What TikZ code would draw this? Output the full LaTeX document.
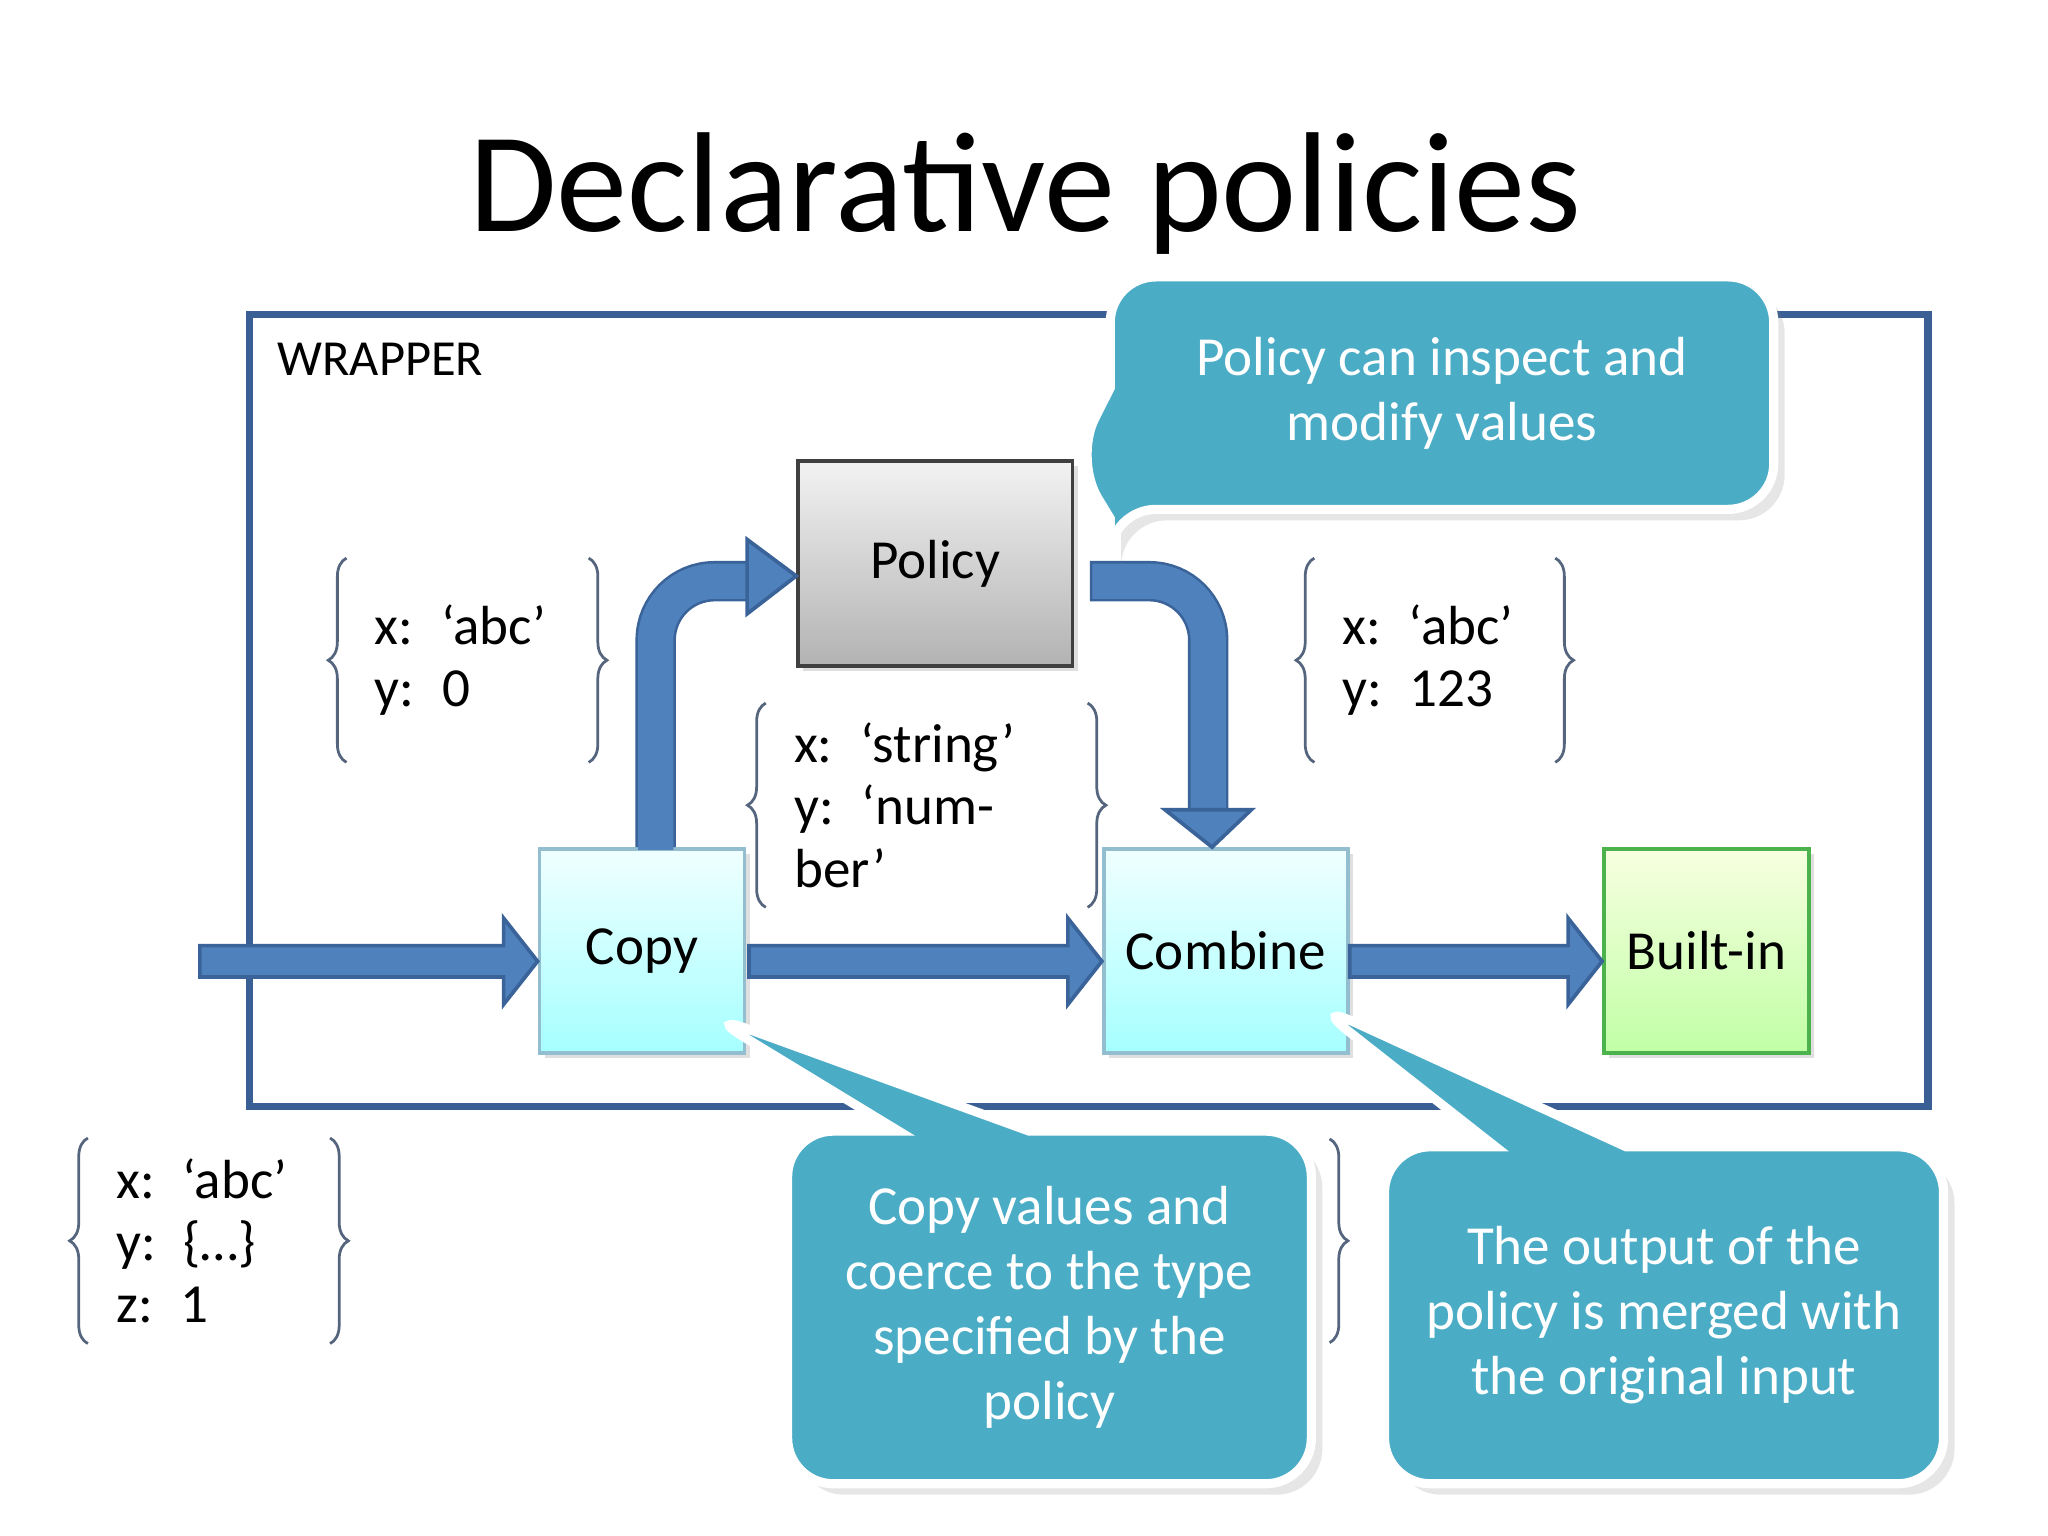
\documentclass[tikz,border=0pt]{standalone}
\usepackage{fontspec}
\setmainfont{Carlito}
\usetikzlibrary{shapes,shapes.callouts,positioning,shadows,calc,decorations.pathreplacing}

\definecolor{frameblue}{HTML}{3A5F94}
\definecolor{arrowblue}{HTML}{4F81BD}
\definecolor{arrowedge}{HTML}{3A6399}
\definecolor{callblue}{HTML}{4BACC6}
\definecolor{bracegray}{HTML}{55657D}

\newcommand{\fatarrow}[2]{%
  \fill[arrowblue, draw=arrowedge, line width=0.8pt]
    ($(#1)+(0,0.12)$) -- ($(#2)+(-0.26,0.12)$) -- ($(#2)+(-0.26,0.33)$) -- (#2)
    -- ($(#2)+(-0.26,-0.33)$) -- ($(#2)+(-0.26,-0.12)$) -- ($(#1)+(0,-0.12)$) -- cycle;}

\begin{document}
\begin{tikzpicture}[
    stage/.style={rectangle, draw, line width=0.8pt, minimum width=1.57cm, minimum height=1.56cm, font=\fontsize{12}{14}\selectfont, drop shadow={opacity=0.25, shadow xshift=0.04cm, shadow yshift=-0.04cm}},
    flow/.style={stage, draw=cyan!45!gray!70, top color=cyan!6, bottom color=cyan!35},
    policy/.style={stage, draw=black!75, top color=black!5, bottom color=black!30, minimum width=2.1cm, minimum height=1.57cm},
    builtin/.style={stage, draw=green!40!gray, top color=lime!12, bottom color=lime!40!green!35},
    note/.style={rectangle callout, rounded corners=0.35cm, fill=callblue, draw=white, line width=2pt, text=white, align=center, font=\fontsize{12}{14.2}\selectfont, callout pointer width=1cm, drop shadow={opacity=0.2}},
    vals/.style={rectangle, align=left, inner xsep=0.21cm, font=\fontsize{12}{13.6}\selectfont},
    curly/.style={decorate, decoration={brace, amplitude=0.14cm}, draw=bracegray, line width=0.6pt},
    shaft/.style={line width=0.31cm, arrowedge},
    shaftin/.style={line width=0.27cm, arrowblue}
]
    \useasboundingbox (0,0) rectangle (15.68,-11.76);

    % Title
    \node[font=\fontsize{31}{36}\selectfont] (title) at (7.85,-1.48) {Declarative policies};

    % Wrapper
    \draw[frameblue, line width=1.6pt] (1.91,-2.41) rectangle (14.76,-8.47);
    \node[anchor=west, font=\fontsize{11}{13}\selectfont] (wrap) at (2.0,-2.75) {WRAPPER};

    % Values
    \node[vals, text width=1.42cm, minimum height=1.55cm] (v0) at (3.58,-5.055) {x: ‘abc’\\y: 0};
    \node[vals, text width=2.03cm, minimum height=1.55cm] (vtype) at (7.095,-6.165) {x: ‘string’\\y: ‘number’};
    \node[vals, text width=1.41cm, minimum height=1.55cm] (v123) at (10.985,-5.055) {x: ‘abc’\\y: 123};
    \node[vals, text width=1.42cm, minimum height=1.56cm] (vin) at (1.60,-9.50) {x: ‘abc’\\y: \{…\}\\z: 1};
    \foreach \v in {v0,vtype,v123,vin} {
        \draw[curly] (\v.south west) -- (\v.north west);
        \draw[curly] (\v.north east) -- (\v.south east);
    }
    \draw[curly] (10.18,-8.72) -- (10.18,-10.28);

    % Boxes
    \node[flow] (copy) at (4.915,-7.28) {Copy};
    \node[flow, minimum width=1.87cm] (combine) at (9.385,-7.28) {Combine};
    \node[builtin] (built) at (13.065,-7.28) {Built-in};
    \node[policy] (pol) at (7.16,-4.315) {Policy};

    % Arrows
    \coordinate (src) at (1.53,-7.36);
    \fatarrow{src}{copy.west |- src}
    \fatarrow{$(copy.east |- src)+(0.02,0)$}{combine.west |- src}
    \fatarrow{combine.east |- src}{built.west |- src}

    \draw[shaft] (copy.north -| 5.02,0) -- (5.02,-4.9) arc (180:90:0.45) -- (5.73,-4.45);
    \draw[shaftin] ($(copy.north -| 5.02,0)+(0,-0.02)$) -- (5.02,-4.9) arc (180:90:0.45) -- (5.73,-4.45);
    \fill[arrowblue, draw=arrowedge, line width=0.8pt] (5.72,-4.13) -- (pol.west |- 0,-4.41) -- (5.72,-4.70) -- cycle;

    \draw[shaft] ($(pol.east |- 0,-4.45)+(0.12,0)$) -- (8.80,-4.45) arc (90:0:0.45) -- (9.25,-6.21);
    \draw[shaftin] ($(pol.east |- 0,-4.45)+(0.14,0)$) -- (8.80,-4.45) arc (90:0:0.45) -- (9.25,-6.21);
    \fill[arrowblue, draw=arrowedge, line width=0.8pt] (8.92,-6.20) -- (combine.north -| 9.28,0) -- (9.58,-6.20) -- cycle;

    % Callouts
    \node[note, minimum width=5.08cm, minimum height=1.78cm, callout absolute pointer={(pol.north east)}] (n1) at (11.04,-3.01)
        {Policy can inspect and\\modify values};
    \node[note, minimum width=4.01cm, minimum height=2.7cm, callout absolute pointer={(5.40,-7.76)}] (n2) at (8.035,-10.01)
        {Copy values and\\coerce to the type\\specified by the\\policy};
    \node[note, minimum width=4.28cm, minimum height=2.58cm, callout absolute pointer={(10.05,-7.68)}] (n3) at (12.74,-10.07)
        {The output of the\\policy is merged with\\the original input};
\end{tikzpicture}
\end{document}
